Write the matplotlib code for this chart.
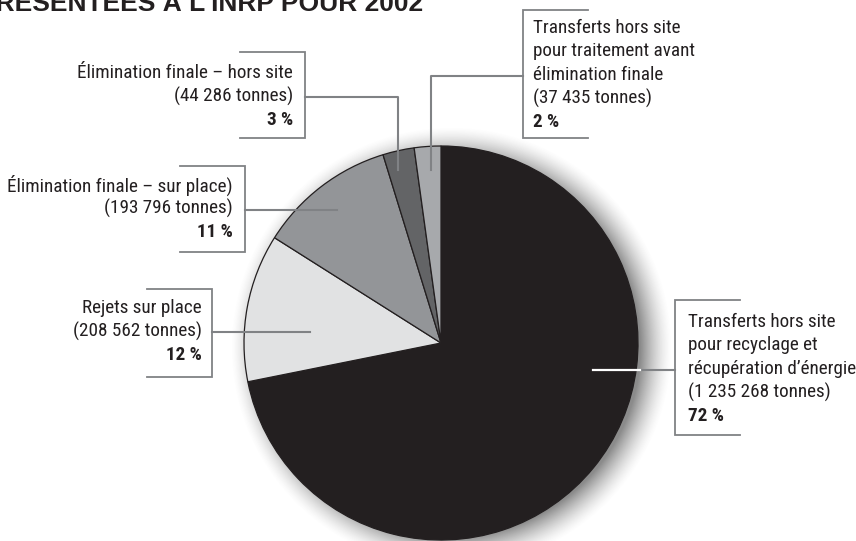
import numpy as np
import matplotlib.pyplot as plt

W, H = 856, 541

tonnes = [1235268, 208562, 193796, 44286, 37435]
pct_labels = ['72 %', '12 %', '11 %', '3 %', '2 %']
name_lines = [
    ['Transferts hors site', 'pour recyclage et', 'récupération d’énergie', '(1 235 268 tonnes)'],
    ['Rejets sur place', '(208 562 tonnes)'],
    ['Élimination finale – sur place)', '(193 796 tonnes)'],
    ['Élimination finale – hors site', '(44 286 tonnes)'],
    ['Transferts hors site', 'pour traitement avant', 'élimination finale', '(37 435 tonnes)'],
]
colors = ['#231f20', '#e1e2e3', '#939598', '#636466', '#a7a9ac']
title = 'PRÉSENTÉES À L’INRP POUR 2002'

font = ['Roboto Condensed', 'Liberation Sans', 'DejaVu Sans']
fs = 13.8
txt_col = '#231f20'
line_col = '#808285'

fig = plt.figure(figsize=(W / 100, H / 100), dpi=100)
ax = fig.add_axes([0, 0, 1, 1])

# pie geometry in pixels (y measured from top)
cx, cy, R = 441, 343, 197

# soft shadow
xx, yy = np.meshgrid(np.arange(W), np.arange(H))
d = np.hypot(xx - (cx + 10), yy - (cy + 4))
a = np.clip((R + 24 - d) / 32, 0, 1) ** 1.5 * 0.65
shadow = np.zeros((H, W, 4))
shadow[..., :3] = 0.3
shadow[..., 3] = a
ax.imshow(shadow, extent=(0, W, 0, H), origin='upper', zorder=0, interpolation='bilinear')

ax.pie(tonnes, colors=colors, startangle=90, counterclock=False,
       center=(cx, H - cy), radius=R,
       wedgeprops=dict(edgecolor='#231f20', linewidth=0.9, zorder=2))

ax.set_xlim(0, W)
ax.set_ylim(0, H)
ax.set_aspect('equal')
ax.axis('off')

# label layout: (text x, first line y, align, box edge x, box far x, box top, box bottom, leader path)
layout = [
    (688, 322, 'left', 675, 740, 300, 435, [(675, 370), (640, 370)]),
    (202, 308, 'right', 212, 147, 289, 377, [(212, 332), (310, 332)]),
    (233, 185, 'right', 245, 180, 166, 252, [(245, 210), (337, 210)]),
    (293, 73, 'right', 305, 240, 52, 138, [(305, 97), (398, 97), (398, 170)]),
    (533, 28, 'left', 523, 588, 10, 138, [(523, 76), (431, 76), (431, 170)]),
]
step = 23.5

for i, (tx, ty, ha, bx, bfar, btop, bbot, path) in enumerate(layout):
    lines = name_lines[i]
    for k, s in enumerate(lines):
        ax.text(tx, H - (ty + k * step), s, ha=ha, va='center', fontsize=fs,
                family=font, color=txt_col, zorder=5)
    ax.text(tx, H - (ty + len(lines) * step), pct_labels[i], ha=ha, va='center',
            fontsize=fs, family=font, fontweight='bold', color=txt_col, zorder=5)
    ax.plot([bfar, bx, bx, bfar], [H - btop, H - btop, H - bbot, H - bbot],
            color=line_col, lw=1.3, zorder=4, solid_joinstyle='miter')
    px = [p[0] for p in path]
    pyv = [H - p[1] for p in path]
    ax.plot(px, pyv, color=line_col, lw=1.5, zorder=4)

# white leader inside the black slice
ax.plot([593, 640], [H - 370, H - 370], color='white', lw=1.6, zorder=4)

ax.text(423, H - 11, title, ha='right', va='baseline', fontsize=19,
        family=['Liberation Sans', 'DejaVu Sans'], fontweight='bold', color=txt_col)

fig.savefig('out.png', dpi=100)
